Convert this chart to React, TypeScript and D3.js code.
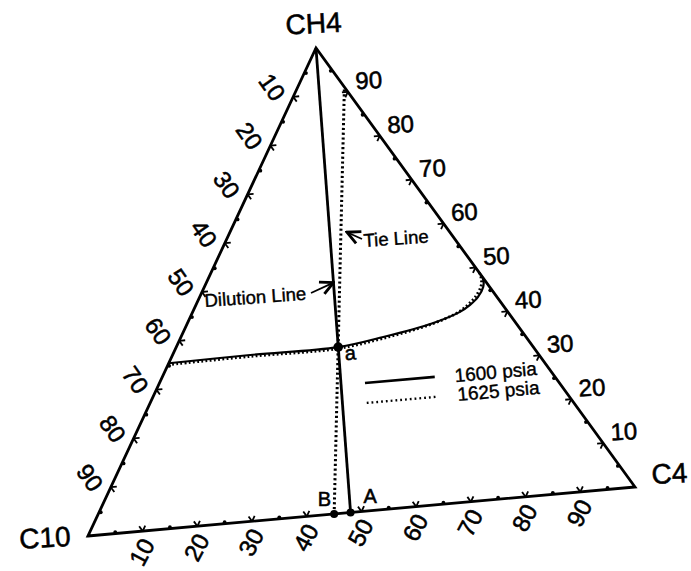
import React from 'react';
import * as d3 from 'd3';

const W = 691;
const H = 571;

// Corner positions of the ternary triangle on the page
const CORNER_C10: [number, number] = [88, 536];
const CORNER_C4: [number, number] = [635, 487];
const CORNER_CH4: [number, number] = [316, 48];

// Axis tick values (percent)
const majorTicks = [10, 20, 30, 40, 50, 60, 70, 80, 90];
const minorTicks = [5, 15, 25, 35, 45, 55, 65, 75, 85, 95];
const vertexLabels = ['CH4', 'C10', 'C4'];

// Two-phase envelope at 1600 psia (mole percent C4 and CH4)
const env1600C4 = [0, 14.8, 30.9, 38.6, 46.8, 51.0, 52.3, 53.1, 53.2, 52.6, 51.5];
const env1600CH4 = [35.4, 35.6, 35.6, 36.9, 38.9, 40.8, 42.1, 43.6, 45.7, 47.2, 48.5];

// Two-phase envelope at 1625 psia
const env1625C4 = [0, 14.8, 30.9, 38.6, 46.6, 50.6, 51.9, 52.6, 52.7, 52.1, 51.2];
const env1625CH4 = [35.1, 35.3, 35.3, 36.6, 38.7, 40.7, 42.2, 43.8, 46.0, 47.5, 48.8];

// Dilution line: pure CH4 to mixture A
const dilutionC4 = [0, 48];
const dilutionCH4 = [100, 0];

// Tie line through mixture a, from B to the vapour end
const tieC4 = [45, 8.9];
const tieCH4 = [0, 91.1];

// Marked compositions
const pointNames = ['a', 'A', 'B'];
const pointC4 = [30.9, 48, 45];
const pointCH4 = [35.6, 0, 0];

const legendLabels = ['1600 psia', '1625 psia'];

const FONT = '"Liberation Sans", Arial, Helvetica, sans-serif';

// Barycentric projection built from linear scales along two triangle sides
const sxC4 = d3.scaleLinear().domain([0, 100]).range([0, CORNER_C4[0] - CORNER_C10[0]]);
const syC4 = d3.scaleLinear().domain([0, 100]).range([0, CORNER_C4[1] - CORNER_C10[1]]);
const sxCH4 = d3.scaleLinear().domain([0, 100]).range([0, CORNER_CH4[0] - CORNER_C10[0]]);
const syCH4 = d3.scaleLinear().domain([0, 100]).range([0, CORNER_CH4[1] - CORNER_C10[1]]);

function project(c4: number, ch4: number): [number, number] {
  return [
    CORNER_C10[0] + sxC4(c4) + sxCH4(ch4),
    CORNER_C10[1] + syC4(c4) + syCH4(ch4),
  ];
}

type V = [number, number];
const sub = (a: V, b: V): V => [a[0] - b[0], a[1] - b[1]];
const unit = (v: V): V => {
  const l = Math.hypot(v[0], v[1]);
  return [v[0] / l, v[1] / l];
};
function outwardNormal(a: V, b: V, opp: V): V {
  const e = sub(b, a);
  let n: V = unit([e[1], -e[0]]);
  const o = sub(opp, a);
  if (n[0] * o[0] + n[1] * o[1] > 0) n = [-n[0], -n[1]];
  return n;
}

interface Edge {
  key: string;
  at: (v: number) => V;
  dirs: V[];
  normal: V;
  rot: number;
  dist: number;
  shift: V;
}

const edges: Edge[] = [
  {
    key: 'c10',
    at: (v) => project(0, 100 - v),
    dirs: [unit(sub(CORNER_C4, CORNER_C10)), unit(sub(CORNER_C4, CORNER_CH4))],
    normal: outwardNormal(CORNER_CH4, CORNER_C10, CORNER_C4),
    rot: 55,
    dist: 23,
    shift: [0, 0],
  },
  {
    key: 'c4',
    at: (v) => project(v, 0),
    dirs: [unit(sub(CORNER_CH4, CORNER_C10)), unit(sub(CORNER_CH4, CORNER_C4))],
    normal: outwardNormal(CORNER_C10, CORNER_C4, CORNER_CH4),
    rot: -62,
    dist: 21,
    shift: [-3, 0],
  },
  {
    key: 'ch4',
    at: (v) => project(100 - v, v),
    dirs: [unit(sub(CORNER_C10, CORNER_C4)), unit(sub(CORNER_C10, CORNER_CH4))],
    normal: outwardNormal(CORNER_C4, CORNER_CH4, CORNER_C10),
    rot: -3,
    dist: 22,
    shift: [3, 1],
  },
];

const curve = d3
  .line<[number, number]>()
  .x((d) => project(d[0], d[1])[0])
  .y((d) => project(d[0], d[1])[1])
  .curve(d3.curveCatmullRom.alpha(0.5));

const straight = d3
  .line<[number, number]>()
  .x((d) => project(d[0], d[1])[0])
  .y((d) => project(d[0], d[1])[1]);

const zip = (a: number[], b: number[]): [number, number][] => a.map((v, i) => [v, b[i]]);

// heavier glyphs, as printed
const ink = { stroke: '#000', strokeWidth: 0.55, paintOrder: 'stroke' as const };

export default function App() {
  const tri = [CORNER_C10, CORNER_C4, CORNER_CH4];
  const triPath = d3.line()(tri as [number, number][]) + 'Z';

  // annotation anchors derived from the data lines
  const dilTip = project(dilutionC4[0] + (dilutionC4[1] - dilutionC4[0]) * 0.505, 100 - 100 * 0.505);
  const tieT = 0.66;
  const tiePt = project(tieC4[0] + (tieC4[1] - tieC4[0]) * tieT, tieCH4[0] + (tieCH4[1] - tieCH4[0]) * tieT);
  const tieTip: V = [tiePt[0] + 6, tiePt[1]];

  const pts = pointNames.map((n, i) => ({ n, p: project(pointC4[i], pointCH4[i]) }));

  return (
    <svg
      width={W}
      height={H}
      viewBox={`0 0 ${W} ${H}`}
      style={{ position: 'absolute', left: 0, top: 0, background: '#fff' }}
      fontFamily={FONT}
    >
      <defs>
        <marker id="arr" viewBox="0 0 10 10" refX="9" refY="5" markerWidth="9" markerHeight="9" orient="auto">
          <path d="M1,1 L9,5 L1,9" fill="none" stroke="#000" strokeWidth={1.8} />
        </marker>
      </defs>
      <rect width={W} height={H} fill="#fff" />

      {/* triangle frame */}
      <path d={triPath} fill="none" stroke="#000" strokeWidth={2.8} strokeLinejoin="miter" />

      {/* ticks and labels */}
      {edges.map((e) => (
        <g key={e.key}>
          {majorTicks.map((v) => {
            const p = e.at(v);
            return (
              <g key={v}>
                {e.dirs.map((d, k) => (
                  <line
                    key={k}
                    x1={p[0]}
                    y1={p[1]}
                    x2={p[0] + d[0] * 6}
                    y2={p[1] + d[1] * 6}
                    stroke="#000"
                    strokeWidth={1.8}
                  />
                ))}
              </g>
            );
          })}
          {minorTicks.map((v) => {
            const p = e.at(v);
            return (
              <circle key={v} cx={p[0] - e.normal[0] * 1.5} cy={p[1] - e.normal[1] * 1.5} r={1.9} fill="#000" />
            );
          })}
          {majorTicks.map((v) => {
            const p = e.at(v);
            const x = p[0] + e.normal[0] * e.dist + e.shift[0];
            const y = p[1] + e.normal[1] * e.dist + e.shift[1];
            return (
              <text
                key={'l' + v}
                x={x}
                y={y}
                dy="0.36em"
                textAnchor="middle"
                fontSize={24}
                {...ink}
                transform={`rotate(${e.rot} ${x} ${y})`}
              >
                {v}
              </text>
            );
          })}
        </g>
      ))}

      {/* vertex labels */}
      <text x={CORNER_CH4[0] - 2} y={CORNER_CH4[1] - 15} textAnchor="middle" fontSize={28} {...ink} transform={`rotate(-3 ${CORNER_CH4[0]} 33)`}>
        {vertexLabels[0]}
      </text>
      <text x={CORNER_C10[0] - 17} y={CORNER_C10[1] + 10} textAnchor="end" fontSize={28} {...ink} transform={`rotate(-3 70 546)`}>
        {vertexLabels[1]}
      </text>
      <text x={CORNER_C4[0] + 17} y={CORNER_C4[1] - 3} textAnchor="start" fontSize={28} {...ink} transform={`rotate(-3 652 484)`}>
        {vertexLabels[2]}
      </text>

      {/* phase envelopes */}
      <path d={curve(zip(env1600C4, env1600CH4)) || ''} fill="none" stroke="#000" strokeWidth={2.2} />
      <path
        d={curve(zip(env1625C4, env1625CH4)) || ''}
        fill="none"
        stroke="#000"
        strokeWidth={2.8}
        strokeDasharray="1.8 2.4"
      />

      {/* dilution line */}
      <path d={straight(zip(dilutionC4, dilutionCH4)) || ''} fill="none" stroke="#000" strokeWidth={2.8} />

      {/* tie line */}
      <path
        d={straight(zip(tieC4, tieCH4)) || ''}
        fill="none"
        stroke="#000"
        strokeWidth={3}
        strokeDasharray="2.2 2.6"
      />

      {/* marked compositions */}
      {pts.map(({ n, p }) => (
        <circle key={n} cx={p[0]} cy={p[1]} r={n === 'a' ? 4.8 : 4} fill="#000" />
      ))}
      <text x={pts[0].p[0] + 7} y={pts[0].p[1] + 13} fontSize={20} {...ink} transform={`rotate(-5 ${pts[0].p[0] + 7} ${pts[0].p[1] + 13})`}>
        {pts[0].n}
      </text>
      <text x={pts[1].p[0] + 13} y={pts[1].p[1] - 9} fontSize={20} textAnchor="start" {...ink}>
        {pts[1].n}
      </text>
      <text x={pts[2].p[0] - 3} y={pts[2].p[1] - 8} fontSize={20} textAnchor="end" {...ink}>
        {pts[2].n}
      </text>

      {/* annotations */}
      <g transform={`rotate(-4 205 307)`}>
        <text x={205} y={307} fontSize={18.5} {...ink} strokeWidth={0.4}>Dilution Line</text>
      </g>
      <line x1={311} y1={293} x2={dilTip[0]} y2={dilTip[1]} stroke="#000" strokeWidth={1.8} markerEnd="url(#arr)" />

      <g transform={`rotate(-4 364 247)`}>
        <text x={364} y={247} fontSize={18.5} {...ink} strokeWidth={0.4}>Tie Line</text>
      </g>
      <line x1={362} y1={239} x2={tieTip[0]} y2={tieTip[1]} stroke="#000" strokeWidth={1.8} markerEnd="url(#arr)" />

      {/* legend */}
      <g transform="translate(365 383) rotate(-5)">
        <line x1={0} y1={0} x2={70} y2={0} stroke="#000" strokeWidth={2.6} />
        <line x1={0} y1={20} x2={70} y2={20} stroke="#000" strokeWidth={2.4} strokeDasharray="1.8 3" />
        <text x={90} y={7} fontSize={19} {...ink} strokeWidth={0.4}>{legendLabels[0]}</text>
        <text x={91} y={26} fontSize={19} {...ink} strokeWidth={0.4}>{legendLabels[1]}</text>
      </g>
    </svg>
  );
}
